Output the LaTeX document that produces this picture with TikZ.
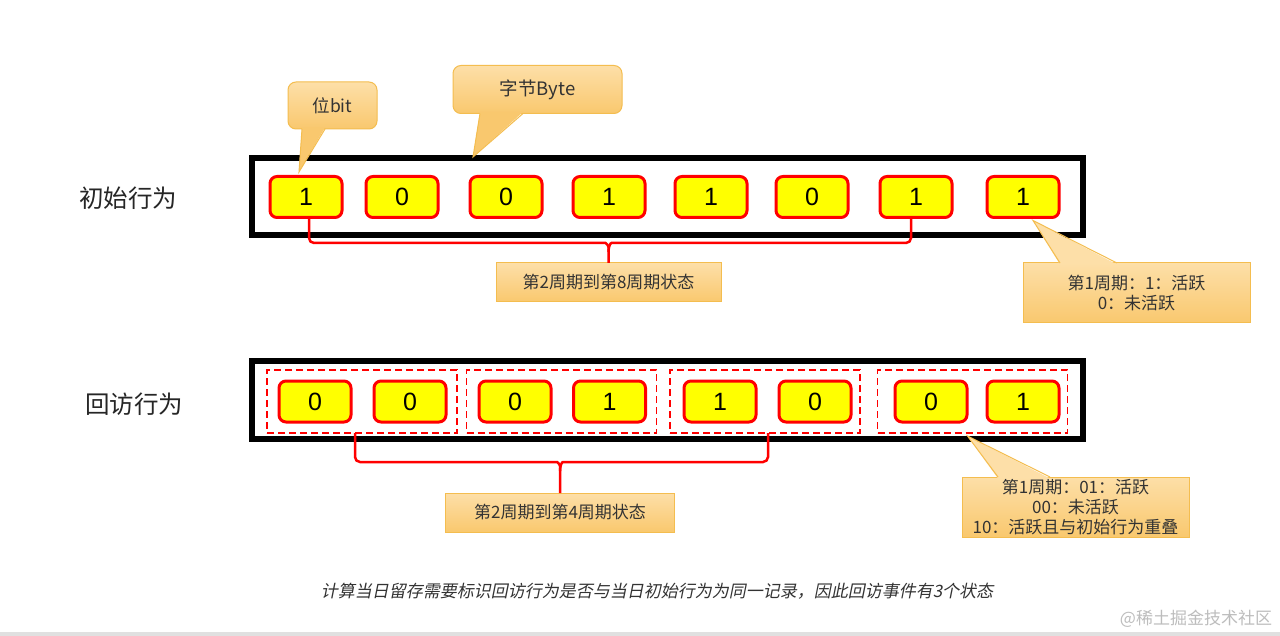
\documentclass[tikz,border=0pt]{standalone}
\usepackage{fontspec}
\setmainfont{Noto Sans CJK SC}
\newfontfamily\digitfont{Liberation Sans}
\newfontfamily\capfont[FakeSlant=0.2]{Noto Sans CJK SC}
\usetikzlibrary{calc}
\definecolor{bitred}{HTML}{FF0000}
\definecolor{bityel}{HTML}{FFFF00}
\definecolor{cfillT}{HTML}{FDDFA8}
\definecolor{cfillB}{HTML}{F9C86E}
\definecolor{clinec}{HTML}{F4BD4F}
\definecolor{txt}{HTML}{333333}
\definecolor{wm}{HTML}{BDBDBD}
\begin{document}
\begin{tikzpicture}[x=1pt,y=-1pt,
  outerbox/.style={draw=black, line width=6pt, inner sep=0pt, outer sep=0pt, minimum width=831pt},
  bitbox/.style={draw=bitred, fill=bityel, line width=3pt, rounded corners=7pt, inner sep=0pt, outer sep=0pt,
    minimum width=72pt, minimum height=41pt, text=black, font=\digitfont\fontsize{25}{25}\selectfont},
  groupbox/.style={draw=bitred, line width=1.8pt, dash pattern=on 7pt off 4pt, inner sep=0pt, outer sep=0pt,
    minimum width=190pt, minimum height=63pt},
  rowlabel/.style={text=black!85, font=\fontsize{24.5}{26}\selectfont, inner sep=0pt},
  callbox/.style={draw=clinec, line width=1pt, top color=cfillT, bottom color=cfillB, inner sep=0pt, outer sep=0pt,
    text=txt, align=center, font=\fontsize{17}{20}\selectfont},
  labbox/.style={callbox, minimum height=39pt, font=\fontsize{17}{20}\selectfont},
  cside/.style={draw=clinec, line width=1pt},
  bracestyle/.style={draw=bitred, line width=2.5pt, rounded corners=5pt}
]
\useasboundingbox (0,0) rectangle (1280,636);
\fill[white] (0,0) rectangle (1280,636);
\fill[black!12] (0,632) rectangle (1280,636);

% row labels
\node[rowlabel] (lab0) at (128,198) {初始行为};
\node[rowlabel] (lab9) at (134,404) {回访行为};

% top row
\node[outerbox, minimum height=77pt] (row1) at (667.5,196.5) {};
\node[bitbox] (b1) at (306,197) {1};
\node[bitbox] (b2) at (402,197) {0};
\node[bitbox] (b3) at (506,197) {0};
\node[bitbox] (b4) at (609,197) {1};
\node[bitbox] (b5) at (711,197) {1};
\node[bitbox] (b6) at (812,197) {0};
\node[bitbox] (b7) at (916,197) {1};
\node[bitbox] (b8) at (1023,197) {1};

% bottom row
\node[outerbox, minimum height=78pt] (row2) at (667.5,400) {};
\node[groupbox] (g1) at (362,401.5) {};
\node[groupbox] (g2) at (561.5,401.5) {};
\node[groupbox] (g3) at (765,401.5) {};
\node[groupbox] (g4) at (972.5,401.5) {};
\node[bitbox] (c1) at (315,401.5) {0};
\node[bitbox] (c2) at (410,401.5) {0};
\node[bitbox] (c3) at (515,401.5) {0};
\node[bitbox] (c4) at (609.5,401.5) {1};
\node[bitbox] (c5) at (720,401.5) {1};
\node[bitbox] (c6) at (815,401.5) {0};
\node[bitbox] (c7) at (931,401.5) {0};
\node[bitbox] (c8) at (1023,401.5) {1};

% label boxes
\node[labbox, minimum width=225pt] (lab1) at (608.5,282.5) {第2周期到第8周期状态};
\node[labbox, minimum width=229pt] (lab2) at (560,512.5) {第2周期到第4周期状态};

% braces
\draw[bracestyle] ([xshift=3pt]b1.south) |- ($(lab1.north)+(-8,-20)$)
  .. controls +(6,0) and +(0,-6) .. ($(lab1.north)+(0,-11)$) -- (lab1.north);
\draw[bracestyle] ([xshift=-5pt]b7.south) |- ($(lab1.north)+(8,-20)$)
  .. controls +(-6,0) and +(0,-6) .. ($(lab1.north)+(0,-11)$);
\draw[bracestyle] ([xshift=-7pt]g1.south) |- ($(lab2.north)+(-8,-31)$)
  .. controls +(6,0) and +(0,-6) .. ($(lab2.north)+(0,-22)$) -- (lab2.north);
\draw[bracestyle] ([xshift=3pt]g3.south) |- ($(lab2.north)+(8,-31)$)
  .. controls +(-6,0) and +(0,-6) .. ($(lab2.north)+(0,-22)$);

% callout: bit
\node[callbox, rounded corners=8pt, minimum width=89pt, minimum height=47pt, font=\fontsize{17.5}{20}\selectfont] (cbit) at (332.5,105.5) {位bit};
\coordinate (tbit) at ([xshift=-7pt,yshift=4.5pt]b1.north);
\fill[cfillB] ($(cbit.south west)+(14,-1.5)$) -- (tbit) -- ($(cbit.south west)+(37,-1.5)$) -- cycle;
\draw[cside] ($(cbit.south west)+(14,0)$) -- (tbit) -- ($(cbit.south west)+(37,0)$);

% callout: byte
\node[callbox, rounded corners=8pt, minimum width=169pt, minimum height=48pt, font=\fontsize{18.5}{20}\selectfont] (cbyte) at (537.5,89.5) {字节Byte};
\coordinate (tbyte) at ($(row1.north west)+(221,-1)$);
\fill[cfillB] ($(cbyte.south west)+(27,-1.5)$) -- (tbyte) -- ($(cbyte.south west)+(70,-1.5)$) -- cycle;
\draw[cside] ($(cbyte.south west)+(27,0)$) -- (tbyte) -- ($(cbyte.south west)+(70,0)$);

% callout: first period (top)
\node[callbox, minimum width=227pt, minimum height=60pt] (cp1) at (1136.5,293) {第1周期：1：活跃\\0：未活跃};
\coordinate (tp1) at ([xshift=10pt,yshift=-3pt]b8.south);
\fill[cfillT] ($(cp1.north west)+(37,1.5)$) -- (tp1) -- ($(cp1.north west)+(94,1.5)$) -- cycle;
\draw[cside] ($(cp1.north west)+(37,0)$) -- (tp1) -- ($(cp1.north west)+(94,0)$);

% callout: first period (bottom)
\node[callbox, minimum width=227pt, minimum height=60pt] (cp2) at (1075.5,507) {第1周期：01：活跃\\00：未活跃\\10：活跃且与初始行为重叠};
\coordinate (tp2) at ([xshift=-5pt,yshift=-3pt]g4.south);
\fill[cfillT] ($(cp2.north west)+(36,1.5)$) -- (tp2) -- ($(cp2.north west)+(88,1.5)$) -- cycle;
\draw[cside] ($(cp2.north west)+(36,0)$) -- (tp2) -- ($(cp2.north west)+(88,0)$);

% caption and watermark
\node[text=txt, inner sep=0pt, font=\capfont\fontsize{17}{20}\selectfont] (cap) at (657,591) {计算当日留存需要标识回访行为是否与当日初始行为为同一记录，因此回访事件有3个状态};
\node[text=wm, inner sep=0pt, font=\fontsize{17}{20}\selectfont] (wmark) at (1196,619) {@稀土掘金技术社区};
\end{tikzpicture}
\end{document}
